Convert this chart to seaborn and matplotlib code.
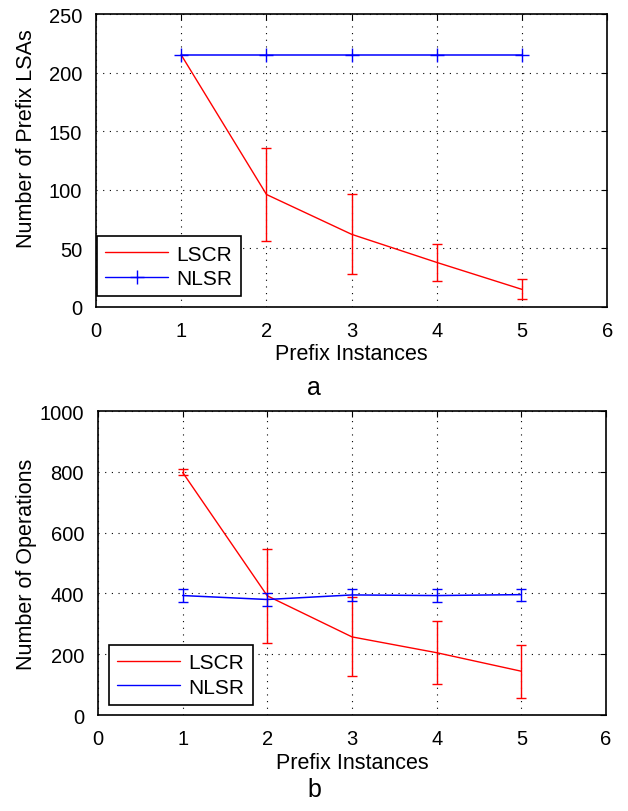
import matplotlib
matplotlib.use('Agg')
import matplotlib.pyplot as plt
import seaborn as sns

instances = [1, 2, 3, 4, 5]

# panel a: number of prefix LSAs
lsas_lscr = [215, 96, 62, 38, 15]
lsas_lscr_err = [0, 40, 34, 16, 8.5]
lsas_nlsr = [215, 215, 215, 215, 215]

# panel b: number of operations
ops_lscr = [798, 392, 257, 205, 144]
ops_lscr_err = [10, 155, 130, 103, 87]
ops_nlsr = [393, 380, 395, 393, 396]
ops_nlsr_err = [20, 22, 21, 22, 20]


def style_axes(ax, ylim, yticks):
    ax.set_xlim(0, 6)
    ax.set_ylim(*ylim)
    ax.set_xticks(range(0, 7))
    ax.set_yticks(yticks)
    ax.grid(True, color='black', linestyle=(0, (1, 5)), linewidth=0.8)
    ax.tick_params(direction='in', top=True, right=True, labelsize=14.5, length=4, pad=10,
                   colors='black')
    for s in ax.spines.values():
        s.set_linewidth(1.2)
        s.set_color('black')
    ax.set_xlabel('Prefix Instances', fontsize=15.5)
    ax.xaxis.set_label_coords(0.5, -0.122)


def draw_legend(ax, handles, anchor):
    leg = ax.legend(handles=handles, loc='lower left', bbox_to_anchor=anchor,
                    borderaxespad=0, fontsize=15, fancybox=False, framealpha=1,
                    edgecolor='black', handlelength=3.0, handletextpad=0.4,
                    labelspacing=0.25, borderpad=0.4)
    leg.get_frame().set_linewidth(1.2)


def main():
    sns.set_style('white')
    plt.rcParams['font.family'] = ['Liberation Sans', 'DejaVu Sans']
    plt.rcParams['text.color'] = 'black'
    plt.rcParams['axes.labelcolor'] = 'black'

    fig = plt.figure(figsize=(6.28, 8.12), dpi=100)
    ax1 = fig.add_axes([0.153, 0.6207, 0.814, 0.3608])
    ax2 = fig.add_axes([0.156, 0.1182, 0.809, 0.3744])

    # panel a
    sns.lineplot(x=instances, y=lsas_lscr, color='red', linewidth=1.0, ax=ax1)
    sns.lineplot(x=instances, y=lsas_nlsr, color='blue', linewidth=1.1, marker='+',
                 markersize=10, markeredgewidth=1.0, markeredgecolor='blue', ax=ax1)
    ax1.errorbar(instances[1:], lsas_lscr[1:], yerr=lsas_lscr_err[1:], fmt='none',
                 ecolor='red', elinewidth=1.0, capsize=3.5, capthick=1.0)
    style_axes(ax1, (0, 250), range(0, 251, 50))
    ax1.set_ylabel('Number of Prefix LSAs', fontsize=15.5)
    ax1.yaxis.set_label_coords(-0.115, 0.577)
    l1, = ax1.plot([], [], color='red', lw=1.0, label='LSCR')
    l2, = ax1.plot([], [], color='blue', lw=1.0, marker='+', markersize=10, label='NLSR')
    draw_legend(ax1, [l1, l2], (0.002, 0.037))

    # panel b
    sns.lineplot(x=instances, y=ops_lscr, color='red', linewidth=1.0, ax=ax2)
    sns.lineplot(x=instances, y=ops_nlsr, color='blue', linewidth=1.1, ax=ax2)
    ax2.errorbar(instances, ops_lscr, yerr=ops_lscr_err, fmt='none',
                 ecolor='red', elinewidth=1.0, capsize=3.5, capthick=1.0)
    ax2.errorbar(instances, ops_nlsr, yerr=ops_nlsr_err, fmt='none',
                 ecolor='blue', elinewidth=1.0, capsize=3.5, capthick=1.0)
    style_axes(ax2, (0, 1000), range(0, 1001, 200))
    ax2.set_ylabel('Number of Operations', fontsize=15.5)
    ax2.yaxis.set_label_coords(-0.12, 0.5)
    m1, = ax2.plot([], [], color='red', lw=1.0, label='LSCR')
    m2, = ax2.plot([], [], color='blue', lw=1.0, label='NLSR')
    draw_legend(ax2, [m1, m2], (0.022, 0.033))

    fig.text(0.5, 1 - 388 / 812, 'a', ha='center', va='center', fontsize=18)
    fig.text(0.5, 1 - 790 / 812, 'b', ha='center', va='center', fontsize=18)

    fig.savefig('out.png', dpi=100)
    plt.close()


if __name__ == '__main__':
    main()
